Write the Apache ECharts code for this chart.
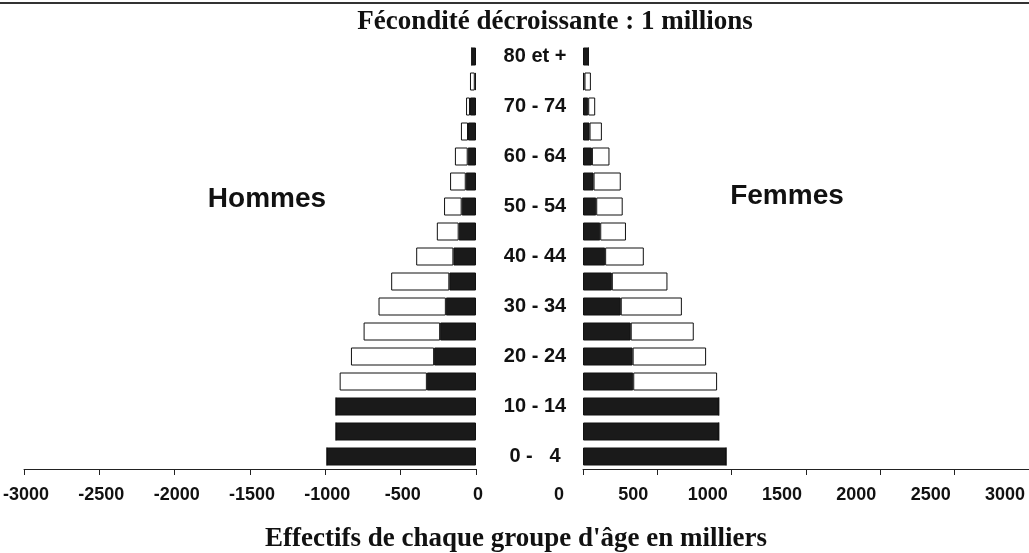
<!DOCTYPE html>
<html>
<head>
<meta charset="utf-8">
<script src="https://cdn.jsdelivr.net/npm/echarts@6/dist/echarts.min.js"></script>
<style>
  html, body { margin: 0; padding: 0; background: #fff; }
  #pyramide { width: 1029px; height: 553px; }
</style>
</head>
<body>
<div id="pyramide"></div>
<script>
// groupes d'âge, du bas (0-4) vers le haut (80 et +)
const ages = ["0 -   4", "5 - 9", "10 - 14", "15 - 19", "20 - 24", "25 - 29", "30 - 34",
  "35 - 39", "40 - 44", "45 - 49", "50 - 54", "55 - 59", "60 - 64", "65 - 69",
  "70 - 74", "75 - 79", "80 et +"];

// effectifs en milliers : partie noire (près du centre) et partie blanche
const hommesNoir = [989, 929, 929, 326, 278, 238, 200, 177, 150, 115, 95, 68, 55, 53, 40, 8, 28];
const hommesBlanc = [0, 0, 0, 579, 552, 508, 447, 386, 247, 145, 117, 104, 85, 47, 26, 32, 0];
const femmesNoir = [962, 913, 913, 338, 334, 321, 254, 194, 149, 116, 89, 71, 60, 44, 35, 10, 36];
const femmesBlanc = [0, 0, 0, 564, 494, 424, 411, 374, 260, 173, 178, 183, 118, 83, 47, 43, 0];

const ticksGauche = [-3000, -2500, -2000, -1500, -1000, -500, 0];
const ticksDroite = [0, 500, 1000, 1500, 2000, 2500, 3000];

let chart = echarts.init(document.getElementById("pyramide"));

const axeLabel = {
  color: "#111",
  fontFamily: "Liberation Sans, Arial, sans-serif",
  fontWeight: "bold",
  fontSize: 18,
  margin: 17,
  formatter: (v) => String(v), // pas de séparateur de milliers
};

function barres(nom, data, couleur, axe) {
  return {
    name: nom,
    type: "bar",
    stack: "s" + axe,
    xAxisIndex: axe,
    yAxisIndex: axe,
    data: data,
    barWidth: 18,
    silent: true,
    itemStyle: { color: couleur, borderColor: "#111", borderWidth: 1 },
  };
}

let option = {
  animation: false,
  backgroundColor: "#fff",
  grid: [
    { left: 23, width: 453, top: 44, bottom: 84 },
    { left: 583, width: 449, top: 44, bottom: 84 },
  ],
  xAxis: [
    {
      gridIndex: 0,
      type: "value",
      min: ticksGauche[0],
      max: ticksGauche[ticksGauche.length - 1],
      interval: 500,
      axisLine: { show: true, lineStyle: { color: "#222", width: 1 } },
      axisTick: { show: true, length: 6, lineStyle: { color: "#222" } },
      splitLine: { show: false },
      axisLabel: Object.assign({}, axeLabel, { padding: [0, 0, 0, 4] }),
    },
    {
      gridIndex: 1,
      type: "value",
      min: ticksDroite[0],
      max: ticksDroite[ticksDroite.length - 1],
      interval: 500,
      axisLine: { show: true, lineStyle: { color: "#222", width: 1 } },
      axisTick: { show: true, length: 6, lineStyle: { color: "#222" } },
      splitLine: { show: false },
      axisLabel: Object.assign({}, axeLabel, { padding: [0, 48, 0, 0] }),
    },
  ],
  yAxis: [
    {
      gridIndex: 0,
      type: "category",
      data: ages,
      axisLine: { show: false },
      axisTick: { show: false },
      axisLabel: { show: false },
    },
    {
      gridIndex: 1,
      type: "category",
      data: ages,
      axisLine: { show: false },
      axisTick: { show: false },
      axisLabel: {
        interval: 1,
        align: "center",
        margin: 48,
        color: "#111",
        fontFamily: "Liberation Sans, Arial, sans-serif",
        fontWeight: "bold",
        fontSize: 20,
      },
    },
  ],
  series: [
    barres("Hommes noir", hommesNoir.map((v) => -v), "#1a1a1a", 0),
    barres("Hommes blanc", hommesBlanc.map((v) => -v), "#fff", 0),
    barres("Femmes noir", femmesNoir, "#1a1a1a", 1),
    barres("Femmes blanc", femmesBlanc, "#fff", 1),
  ],
  graphic: [
    {
      type: "line",
      shape: { x1: 0, y1: 3, x2: 1029, y2: 3 },
      style: { stroke: "#333", lineWidth: 2 },
    },
    {
      type: "text",
      x: 555,
      y: 22,
      style: {
        text: "Fécondité décroissante : 1 millions",
        fontFamily: "Liberation Serif, Times New Roman, serif",
        fontWeight: "bold",
        fontSize: 27,
        fill: "#111",
        align: "center",
        verticalAlign: "middle",
      },
    },
    {
      type: "text",
      x: 267,
      y: 199,
      style: {
        text: "Hommes",
        fontFamily: "Liberation Sans, Arial, sans-serif",
        fontWeight: "bold",
        fontSize: 28,
        fill: "#111",
        align: "center",
        verticalAlign: "middle",
      },
    },
    {
      type: "text",
      x: 787,
      y: 196,
      style: {
        text: "Femmes",
        fontFamily: "Liberation Sans, Arial, sans-serif",
        fontWeight: "bold",
        fontSize: 28,
        fill: "#111",
        align: "center",
        verticalAlign: "middle",
      },
    },
    {
      type: "text",
      x: 516,
      y: 539,
      style: {
        text: "Effectifs de chaque groupe d'âge en milliers",
        fontFamily: "Liberation Serif, Times New Roman, serif",
        fontWeight: "bold",
        fontSize: 27,
        fill: "#111",
        align: "center",
        verticalAlign: "middle",
      },
    },
  ],
};

chart.setOption(option);
</script>
</body>
</html>
